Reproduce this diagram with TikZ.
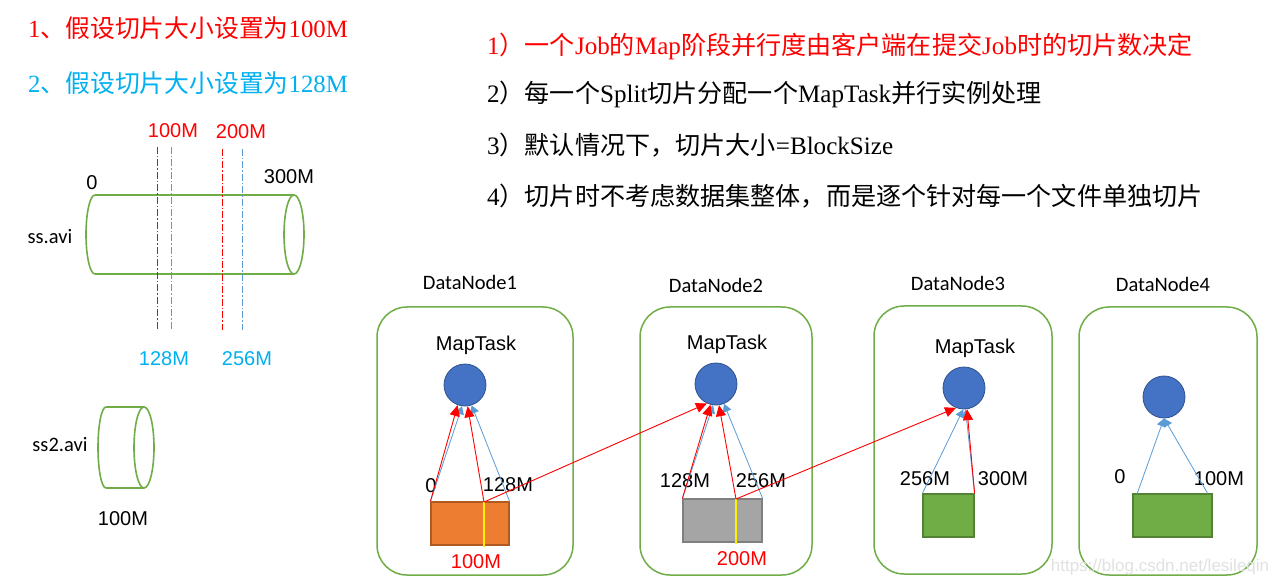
\documentclass[tikz,border=0pt]{standalone}
\usepackage{fontspec}
\setmainfont{Liberation Serif}
\newfontfamily\cjk{Noto Sans CJK SC}
\newfontfamily\arialf{Liberation Sans}
\newfontfamily\calf{Carlito}
\usetikzlibrary{arrows.meta,calc}
\definecolor{myred}{RGB}{255,0,0}
\definecolor{mycyan}{RGB}{0,176,240}
\definecolor{mygreen}{RGB}{112,173,71}
\definecolor{mygreend}{RGB}{84,130,53}
\definecolor{myblue}{RGB}{91,155,213}
\definecolor{circfill}{RGB}{68,114,196}
\definecolor{circdraw}{RGB}{47,82,143}
\definecolor{myorange}{RGB}{237,125,49}
\definecolor{myoranged}{RGB}{174,90,33}
\definecolor{mygray}{RGB}{165,165,165}
\definecolor{mygrayd}{RGB}{127,127,127}
\newcommand{\C}[1]{{\cjk #1}}
\tikzset{
  title/.style={inner sep=0pt, anchor=west, font=\fontsize{24.8}{28}\selectfont},
  listline/.style={inner sep=0pt, anchor=west, font=\fontsize{25.1}{28}\selectfont},
  lab/.style={inner sep=0pt, font=\arialf\fontsize{20}{24}\selectfont},
  clab/.style={inner sep=0pt, font=\calf\fontsize{20.5}{24}\selectfont},
  cyl/.style={draw=mygreen, line width=1.6pt},
  dnbox/.style={draw=mygreen, line width=1.5pt, rounded corners=30pt},
  mt/.style={circle, fill=circfill, draw=circdraw, line width=0.8pt, minimum size=42pt, inner sep=0pt},
  blk/.style={minimum width=#1, minimum height=43pt, inner sep=0pt, line width=1.2pt},
  rdash/.style={draw=myred, line width=1pt, dash pattern=on 7pt off 2pt on 1.5pt off 2pt},
  bdash/.style={draw=myblue, line width=1pt, dash pattern=on 7pt off 2pt on 1.5pt off 2pt},
  rarr/.style={draw=myred, line width=0.9pt, -{Triangle[length=11pt,width=10pt]}},
  barr/.style={draw=myblue, line width=0.8pt, -{Triangle[length=8pt,width=9pt]}},
}
\begin{document}
\begin{tikzpicture}[x=1pt,y=-1pt]
\useasboundingbox (0,0) rectangle (1269,585);
\fill[white] (0,0) rectangle (1269,585);

% titles left
\node[title, text=myred] (t1) at (28,28) {1\C{、假设切片大小设置为}100M};
\node[title, text=mycyan] (t2) at (28,83) {2\C{、假设切片大小设置为}128M};

% list right
\node[listline, text=myred] (l1) at (487,46) {1\C{）一个}Job\C{的}Map\C{阶段并行度由客户端在提交}Job\C{时的切片数决定}};
\node[listline] (l2) at (487,94) {2\C{）每一个}Split\C{切片分配一个}MapTask\C{并行实例处理}};
\node[listline] (l3) at (487,145) {3\C{）默认情况下，切片大小}=BlockSize};
\node[listline] (l4) at (487,196) {4\C{）切片时不考虑数据集整体，而是逐个针对每一个文件单独切片}};

% ss.avi cylinder
\draw[cyl] (95,195) -- (294,195);
\draw[cyl] (95,274) -- (294,274);
\draw[cyl] (95,274) arc[start angle=90,end angle=270,x radius=9,y radius=39.5];
\draw[cyl] (294,234.5) ellipse[x radius=10,y radius=39.5];
\node[clab] (ssavi) at (50,237) {ss.avi};
\node[lab] (z0) at (92,183) {0};
\node[lab] (z300) at (289,177) {300M};

% split lines
\draw[rdash] (157,147) -- (157,329);
\draw[bdash] (171,147) -- (171,329);
\draw[rdash] (222,149) -- (222,330);
\draw[bdash] (242,149) -- (242,330);
\node[lab, text=myred] (m100) at (173,131) {100M};
\node[lab, text=myred] (m200) at (241,132) {200M};
\node[lab, text=mycyan] (m128) at (164,359) {128M};
\node[lab, text=mycyan] (m256) at (247,359) {256M};

% ss2.avi cylinder
\draw[cyl] (106,407) -- (144,407);
\draw[cyl] (106,488) -- (144,488);
\draw[cyl] (106,488) arc[start angle=90,end angle=270,x radius=8,y radius=40.5];
\draw[cyl] (144,447.5) ellipse[x radius=10,y radius=40.5];
\node[clab] (ss2) at (60,445) {ss2.avi};
\node[lab] (s2size) at (123,519) {100M};

% DataNode boxes
\draw[dnbox] (377,307) rectangle (573,575);
\draw[dnbox] (640,307) rectangle (812,575);
\draw[dnbox] (874,306) rectangle (1052,574);
\draw[dnbox] (1079,307) rectangle (1257,575);
\node[clab] (dn1) at (470,282) {DataNode1};
\node[clab] (dn2) at (716,285) {DataNode2};
\node[clab] (dn3) at (958,283) {DataNode3};
\node[clab] (dn4) at (1163,284) {DataNode4};

\node[lab] (mt1) at (476,345) {MapTask};
\node[lab] (mt2) at (727,344) {MapTask};
\node[lab] (mt3) at (975,348) {MapTask};

% circles
\node[mt] (c1) at (465,385) {};
\node[mt] (c2) at (716,384) {};
\node[mt] (c3) at (964,388) {};
\node[mt] (c4) at (1164,397) {};

% blocks
\node[blk=78pt, fill=myorange, draw=myoranged] (r1) at (470,523.5) {};
\node[blk=79pt, fill=mygray, draw=mygrayd] (r2) at (722.5,520.5) {};
\node[blk=51pt, fill=mygreen, draw=mygreend] (r3) at (948.5,515.5) {};
\node[blk=79pt, fill=mygreen, draw=mygreend] (r4) at (1172.5,515.5) {};

\coordinate (s1) at (484,502);
\coordinate (s1b) at (484,547);
\coordinate (s2) at (736,499);
\coordinate (s2b) at (736,544);
\draw[yellow, line width=2.5pt] (s1) -- (s1b);
\draw[yellow, line width=2.5pt] (s2) -- (s2b);

\coordinate (d4l) at (1137,494);
\coordinate (d4r) at (1208,494);

% labels near blocks
\node[lab] (a0) at (431,486) {0};
\node[lab] (a128) at (508,485) {128M};
\node[lab, text=myred] (a100) at (476,562) {100M};
\node[lab] (b128) at (685,481) {128M};
\node[lab] (b256) at (761,481) {256M};
\node[lab, text=myred] (b200) at (742,559) {200M};
\node[lab] (e256) at (925,479) {256M};
\node[lab] (e300) at (1003,479) {300M};
\node[lab] (f0) at (1120,477) {0};
\node[lab] (f100) at (1219,479) {100M};

% blue arrows (128M splits)
\draw[barr] (r1.north west) -- (c1.262);
\draw[barr] (r1.north east) -- (c1.288);
\draw[barr] (r2.north west) -- (c2.262);
\draw[barr] (r2.north east) -- (c2.292);
\draw[barr] (r3.north west) -- (c3.268);
\draw[barr] (r3.north east) -- (c3.274);
\draw[barr] (d4l) -- (c4.south);
\draw[barr] (d4r) -- (c4.south);

% red arrows (100M splits)
\draw[rarr] (r1.north west) -- (c1.250);
\draw[rarr] (s1) -- (c1.277);
\draw[rarr] (s1) -- (c2.245);
\draw[rarr] (r2.north west) -- (c2.255);
\draw[rarr] (s2) -- (c2.278);
\draw[rarr] (s2) -- (c3.248);
\draw[rarr] (r3.north east) -- (c3.278);

% watermark
\node[inner sep=0pt, text={rgb,255:red,225;green,225;blue,225}, font=\arialf\fontsize{17}{20}\selectfont] (wm) at (1160,567) {https://blog.csdn.net/lesileqin};
\end{tikzpicture}
\end{document}
